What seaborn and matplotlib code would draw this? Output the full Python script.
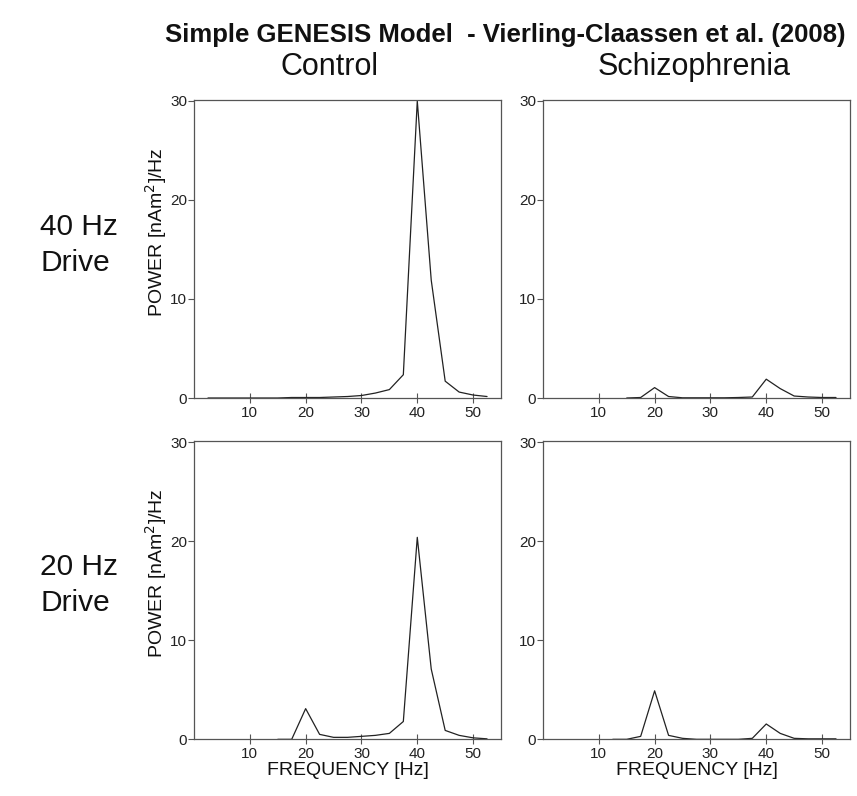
import numpy as np
import pandas as pd
import matplotlib
matplotlib.use('Agg')
import matplotlib.pyplot as plt
import seaborn as sns

# ------------ data ----------------------------------
freqs = [2.5, 5, 7.5, 10, 12.5, 15, 17.5, 20, 22.5, 25, 27.5,
         30, 32.5, 35, 37.5, 40, 42.5, 45, 47.5, 50, 52.5]
nan = np.nan
control_40 = [0, 0, 0, 0, 0, 0, 0.05, 0.05, 0.05, 0.1, 0.15,
              0.25, 0.5, 0.85, 2.35, 30, 11.9, 1.7, 0.6, 0.3, 0.15]
schizo_40 = [nan, nan, nan, nan, nan, 0, 0.05, 1.05, 0.15, 0.02, 0.02,
             0.02, 0.02, 0.05, 0.1, 1.9, 0.95, 0.2, 0.1, 0.05, 0.05]
control_20 = [nan, nan, nan, nan, nan, 0, 0, 3.1, 0.5, 0.2, 0.2,
              0.3, 0.4, 0.6, 1.8, 20.4, 7.1, 0.9, 0.4, 0.15, 0.05]
schizo_20 = [nan, nan, nan, nan, 0, 0, 0.3, 4.9, 0.4, 0.1, 0.0,
             0.0, 0.0, 0.0, 0.1, 1.55, 0.6, 0.1, 0.05, 0.05, 0.05]

col_labels = ['Control', 'Schizophrenia']
row_labels = [['40 Hz', 'Drive'], ['20 Hz', 'Drive']]
title = 'Simple GENESIS Model  - Vierling-Claassen et al. (2008)'
x_ticks = [10, 20, 30, 40, 50]
y_ticks = [0, 10, 20, 30]

sns.set_theme(style='white')
plt.rcParams['font.family'] = ['Liberation Sans', 'DejaVu Sans']

fig = plt.figure(figsize=(8.57, 7.96), dpi=100)
H = 796.0

lefts = [0.2264, 0.6336]
bottoms = [0.5, 0.0712]
w, h = 0.3582, 0.3744

panels = [[control_40, schizo_40], [control_20, schizo_20]]
spine_col = '#555555'
txt_col = '#111111'

for r in range(2):
    for c in range(2):
        ax = fig.add_axes([lefts[c], bottoms[r], w, h])
        df = pd.DataFrame({'freq': freqs, 'power': panels[r][c]})
        sns.lineplot(data=df, x='freq', y='power', ax=ax, color='#222222',
                     linewidth=0.9, estimator=None)
        ax.set_xlim(0, 55)
        ax.set_ylim(0, 30.1)
        ax.set_xticks(x_ticks)
        ax.set_yticks(y_ticks)
        ax.tick_params(axis='x', direction='inout', length=7, width=0.8,
                       colors=spine_col, labelcolor='#222222', labelsize=11, pad=2,
                       bottom=True)
        ax.tick_params(axis='y', direction='out', length=4, width=0.8,
                       colors=spine_col, labelcolor='#222222', labelsize=11, pad=1,
                       left=True)
        for s in ax.spines.values():
            s.set_color(spine_col)
            s.set_linewidth(0.9)
        if r == 1:
            ax.set_xlabel('FREQUENCY [Hz]', fontsize=14, color=txt_col)
            ax.xaxis.set_label_coords(0.5, -0.075)
        else:
            ax.set_xlabel('')
        if c == 0:
            ax.set_ylabel('POWER [nAm$^2$]/Hz', fontsize=14, color=txt_col)
            ax.yaxis.set_label_coords(-0.08, 0.557)
        else:
            ax.set_ylabel('')

# titles and row labels
fig.text(0.59, 1 - 42 / H, title, ha='center', va='baseline', fontsize=18.5,
         fontweight='bold', color=txt_col)
fig.text(0.385, 1 - 75 / H, col_labels[0], ha='center', va='baseline', fontsize=22,
         color=txt_col)
fig.text(0.81, 1 - 75 / H, col_labels[1], ha='center', va='baseline', fontsize=22,
         color=txt_col)
for lines, base in zip(row_labels, [235, 575]):
    for k, line in enumerate(lines):
        fig.text(0.047, 1 - (base + 35.7 * k) / H, line, ha='left', va='baseline',
                 fontsize=21.5, color=txt_col)

fig.savefig('out.png', dpi=100)
